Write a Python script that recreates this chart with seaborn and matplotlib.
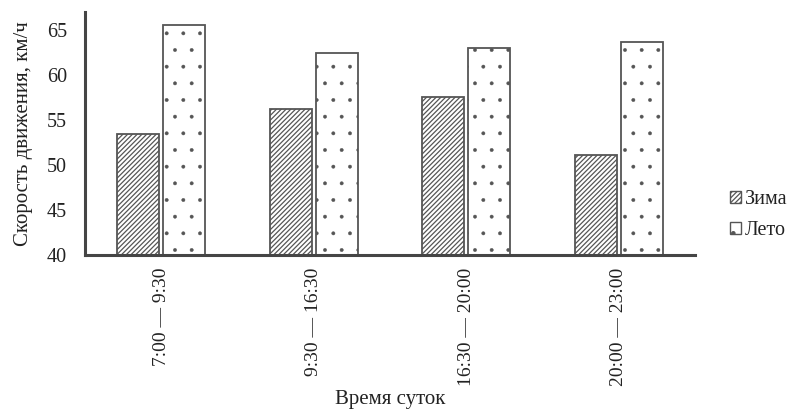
import matplotlib
matplotlib.use("Agg")
import matplotlib.pyplot as plt
import seaborn as sns
import pandas as pd
import numpy as np
from matplotlib.patches import Patch

categories = ["7:00 — 9:30", "9:30 — 16:30", "16:30 — 20:00", "20:00 — 23:00"]
series_names = ["Зима", "Лето"]
winter = [53.4, 56.2, 57.6, 51.1]
summer = [65.5, 62.4, 63.0, 63.7]
y_ticks = [40, 45, 50, 55, 60, 65]

sns.set_theme(style="white")
plt.rcParams["font.family"] = ["Liberation Serif", "DejaVu Serif"]
plt.rcParams["hatch.color"] = "#444444"
plt.rcParams["hatch.linewidth"] = 0.9

df = pd.DataFrame({
    "cat": categories * 2,
    "season": [series_names[0]] * 4 + [series_names[1]] * 4,
    "val": winter + summer,
})

fig = plt.figure(figsize=(7.87, 4.11), dpi=100)
ax = fig.add_axes([0.108, 0.3796, 0.775, 0.5915])

sns.barplot(data=df, x="cat", y="val", hue="season", order=categories,
            hue_order=series_names, palette=["white", "white"],
            width=0.6, gap=0.08, edgecolor="#555555", linewidth=1.3,
            legend=False, ax=ax, errorbar=None)

hatches = {0: "///////", 1: "."}
hatch_lw = {0: 0.9, 1: 0.3}


def style_patch(p, k):
    p.set_hatch(hatches[k])
    if hasattr(p, "set_hatch_linewidth"):
        p.set_hatch_linewidth(hatch_lw[k])


n = len(categories)
for i, p in enumerate(ax.patches[:2 * n]):
    style_patch(p, i // n)

ax.set_ylim(40, 67)
ax.set_xlim(-0.5, n - 0.5)
ax.set_yticks(y_ticks)
ax.set_yticklabels([str(t) for t in y_ticks], fontsize=14.5)
ax.set_xticks(range(n))
ax.set_xticklabels(categories, rotation=90, fontsize=14, va="top", ha="center")
ax.set_xticks(np.arange(-0.5, n, 1.0), minor=True)
ax.tick_params(axis="x", which="major", length=0, pad=9, colors="#222222")
ax.tick_params(axis="x", which="minor", length=5, width=1.8, color="#454545", direction="out")
ax.tick_params(axis="y", which="major", length=5, width=1.8, color="#454545", direction="out",
               labelcolor="#222222", pad=8)

for s in ["top", "right"]:
    ax.spines[s].set_visible(False)
for s in ["left", "bottom"]:
    ax.spines[s].set_color("#454545")
    ax.spines[s].set_linewidth(2.2)

ax.set_ylabel("Скорость движения, км/ч", fontsize=15, color="#222222", labelpad=10)
ax.set_xlabel("Время суток", fontsize=15, color="#222222", labelpad=3)

handles = []
for k in range(2):
    h = Patch(facecolor="white", edgecolor="#555555", label=series_names[k])
    style_patch(h, k)
    handles.append(h)
leg = fig.legend(handles=handles, loc="center left", bbox_to_anchor=(0.927, 0.477),
                 frameon=False, fontsize=14.5, handlelength=0.55, handleheight=0.55,
                 handletextpad=0.2, labelspacing=0.6, labelcolor="#222222",
                 borderpad=0, borderaxespad=0)

fig.savefig("out.png", dpi=100)
